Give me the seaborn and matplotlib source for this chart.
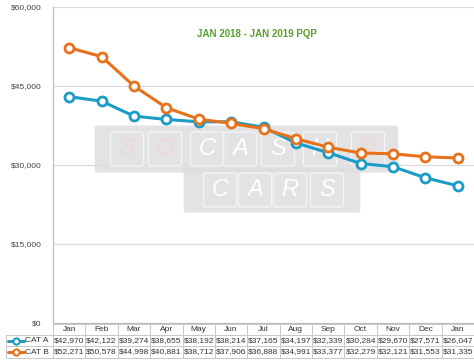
import pandas as pd
import seaborn as sns
import matplotlib.pyplot as plt
from matplotlib.patches import FancyBboxPatch
from matplotlib.lines import Line2D

months = ['Jan', 'Feb', 'Mar', 'Apr', 'May', 'Jun', 'Jul', 'Aug', 'Sep', 'Oct', 'Nov', 'Dec', 'Jan']
cat_a = [42970, 42122, 39274, 38655, 38192, 38214, 37165, 34197, 32339, 30284, 29670, 27571, 26047]
cat_b = [52271, 50578, 44998, 40881, 38712, 37906, 36888, 34991, 33377, 32279, 32121, 31553, 31335]
series = {'CAT A': cat_a, 'CAT B': cat_b}
colors = {'CAT A': '#1b9bc6', 'CAT B': '#e8721c'}
y_ticks = [0, 15000, 30000, 45000, 60000]

sns.set_style('white')
plt.rcParams['font.family'] = ['Liberation Sans', 'DejaVu Sans']

W, H = 474, 361
fig = plt.figure(figsize=(W / 100, H / 100), dpi=100)
# plot area in pixels: x 53..474, y 7..323
ax = fig.add_axes([53 / W, (H - 323) / H, (W - 53) / W, 316 / H])

rows = []
for name, vals in series.items():
    for i, v in enumerate(vals):
        rows.append({'idx': i, 'value': v, 'series': name})
df = pd.DataFrame(rows)

sns.lineplot(ax=ax, data=df, x='idx', y='value', hue='series', palette=colors,
             marker='o', markersize=6.5, markerfacecolor='white', markeredgewidth=2,
             linewidth=2.2, legend=False, zorder=3)
for ln in ax.lines:
    ln.set_markeredgecolor(ln.get_color())

ax.set_xlim(-0.5, len(months) - 0.5)
ax.set_ylim(0, 60000)
ax.set_yticks(y_ticks)
ax.set_yticklabels(['${:,}'.format(t) for t in y_ticks], fontsize=6, color='#444444')
ax.set_xticks([])
ax.set_xlabel('')
ax.set_ylabel('')
ax.tick_params(axis='y', length=3, color='#bbbbbb', pad=5)
ax.set_axisbelow(True)
ax.grid(axis='y', color='#d9d9d9', linewidth=0.8)
for s in ['top', 'right']:
    ax.spines[s].set_visible(False)
ax.spines['left'].set_color('#bbbbbb')
ax.spines['bottom'].set_color('#bbbbbb')

ax.text(0.485, 0.915, 'JAN 2018 - JAN 2019 PQP', transform=ax.transAxes, ha='center',
        va='center', fontsize=7, fontweight='bold', color='#5a9e2e')


def ax_x(px):
    return (px - 53) / 421


def fy(py):
    return (323 - py) / 316


# faint logo watermark (pixel boxes)
def band(x0, x1, y0, y1):
    p = FancyBboxPatch((ax_x(x0), fy(y1)), ax_x(x1) - ax_x(x0), fy(y0) - fy(y1),
                       boxstyle='round,pad=0.008', transform=ax.transAxes,
                       facecolor='#dedede', edgecolor='none', alpha=0.85, zorder=1)
    ax.add_patch(p)


band(98, 395, 128, 170)
band(187, 357, 170, 210)
keys = [('S', 127, 149, '#f0d8d8'), ('G', 165, 149, '#f0d8d8'), ('C', 207, 149, 'white'),
        ('A', 240, 149, 'white'), ('S', 278, 149, 'white'), ('H', 320, 149, 'white'),
        ('N', 368, 149, '#f0d8d8'), ('C', 220, 190, 'white'), ('A', 255, 190, 'white'),
        ('R', 290, 190, 'white'), ('S', 327, 190, 'white')]
for ch, kx, ky, kc in keys:
    k = FancyBboxPatch((ax_x(kx - 14), fy(ky + 15)), 28 / 421, 30 / 316,
                       boxstyle='round,pad=0.006', transform=ax.transAxes,
                       facecolor='none', edgecolor='#f4f4f4', linewidth=1.0, zorder=1.5)
    ax.add_patch(k)
    ax.text(ax_x(kx), fy(ky), ch, transform=ax.transAxes, ha='center', va='center',
            fontsize=17, fontstyle='italic', color=kc, zorder=2)

# data table below the plot
grid_c = '#c8c8c8'
tr = ax.get_xaxis_transform()
lines_y = [324, 335, 346, 358]
for py in lines_y:
    ax.plot([-0.5, len(months) - 0.5], [fy(py)] * 2, transform=tr, color=grid_c,
            linewidth=0.7, clip_on=False)
for i in range(len(months) + 1):
    ax.plot([i - 0.5] * 2, [fy(324), fy(358)], transform=tr, color=grid_c,
            linewidth=0.7, clip_on=False)
for i, m in enumerate(months):
    ax.text(i, fy(329.5), m, transform=tr, ha='center', va='center', fontsize=6,
            color='#333333', clip_on=False)

row_y = [340.5, 352]
for (name, vals), py in zip(series.items(), row_y):
    for i, v in enumerate(vals):
        ax.text(i, fy(py), '${:,}'.format(v), transform=tr, ha='center', va='center',
                fontsize=6, color='#333333', clip_on=False)
    ypix = H - py
    fig.add_artist(Line2D([8 / W, 24 / W], [ypix / H] * 2, color=colors[name], linewidth=2.2))
    fig.add_artist(Line2D([16 / W], [ypix / H], marker='o', markersize=4.5,
                          markerfacecolor='white', markeredgecolor=colors[name],
                          markeredgewidth=1.5))
    fig.text(25 / W, ypix / H, name, ha='left', va='center', fontsize=6, color='#333333')

for py in [335, 346, 358]:
    fig.add_artist(Line2D([6 / W, 53 / W], [(H - py) / H] * 2, color=grid_c, linewidth=0.7))
fig.add_artist(Line2D([6 / W, 6 / W], [(H - 335) / H, (H - 358) / H], color=grid_c, linewidth=0.7))

plt.savefig('out.png', dpi=100)
